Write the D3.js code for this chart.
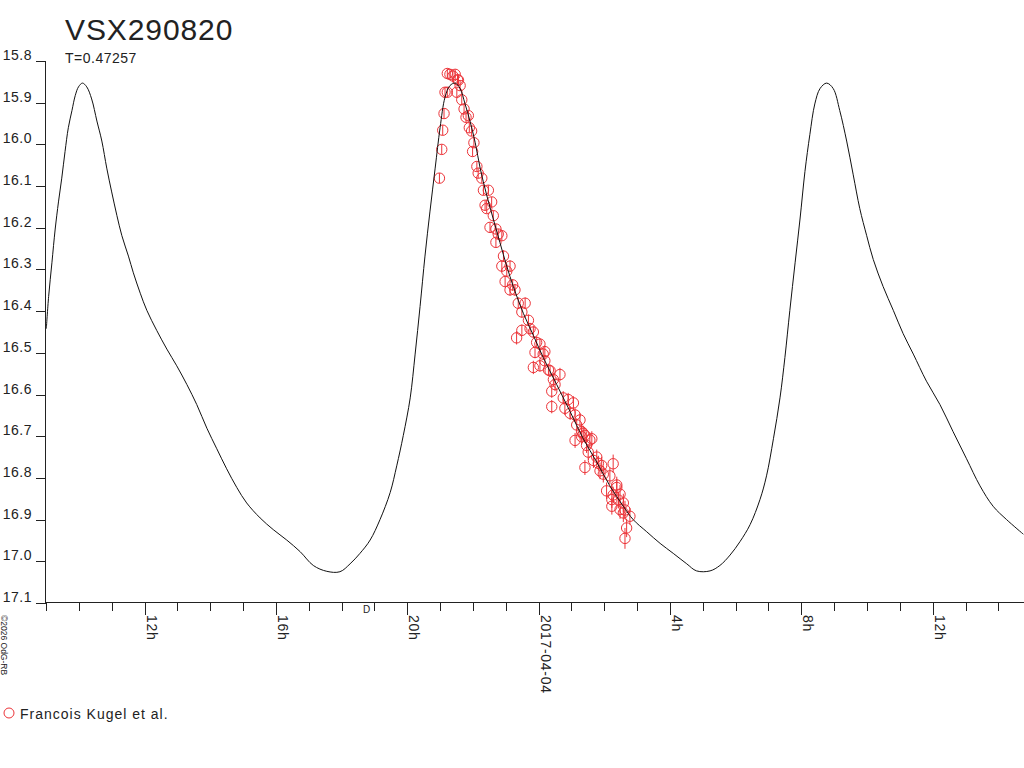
<!DOCTYPE html>
<html>
<head>
<meta charset="utf-8">
<script src="https://cdn.jsdelivr.net/npm/d3@7"></script>
<style>
  html, body { margin: 0; padding: 0; background: #fff; }
  svg { display: block; }
  text { font-family: "Liberation Sans", Arial, sans-serif; fill: #222; }
</style>
</head>
<body>
<svg id="chart" width="1024" height="768"></svg>
<script>
// ---- data ----
const title = "VSX290820";
const periodLabel = "T=0.47257";
const observer = "Francois Kugel et al.";
const copyright = "©2026 OdG-RB";
// time axis: hours relative to 2017-04-04 00:00 UTC
const timeStartHours = -15;
const timeEndHours = 14.78;
const yTicks = [15.8, 15.9, 16.0, 16.1, 16.2, 16.3, 16.4, 16.5, 16.6, 16.7, 16.8, 16.9, 17.0, 17.1];

// model light curve [hours, magnitude]
const modelCurve = [
  [-14.99,16.442],[-14.92,16.365],[-14.82,16.284],[-14.72,16.203],[-14.62,16.138],[-14.52,16.081],
  [-14.42,16.017],[-14.32,15.960],[-14.21,15.919],[-14.11,15.883],[-14.01,15.862],[-13.89,15.853],
  [-13.76,15.862],[-13.61,15.891],[-13.45,15.944],[-13.30,15.992],[-13.15,16.057],[-13.00,16.114],
  [-12.84,16.171],[-12.69,16.219],[-12.49,16.268],[-12.34,16.308],[-12.13,16.357],[-11.93,16.398],
  [-11.63,16.446],[-11.32,16.491],[-11.02,16.531],[-10.71,16.576],[-10.41,16.624],[-10.10,16.681],
  [-9.80,16.730],[-9.50,16.778],[-9.19,16.823],[-8.89,16.860],[-8.48,16.896],[-8.08,16.924],
  [-7.67,16.949],[-7.26,16.977],[-6.86,17.010],[-6.45,17.024],[-6.05,17.025],[-5.74,17.006],
  [-5.44,16.981],[-5.13,16.949],[-4.83,16.900],[-4.52,16.835],[-4.32,16.771],[-4.12,16.698],
  [-3.91,16.608],[-3.76,16.503],[-3.61,16.389],[-3.46,16.268],[-3.31,16.162],[-3.15,16.057],
  [-3.00,15.960],[-2.85,15.887],[-2.70,15.859],[-2.54,15.853],[-2.39,15.866],[-2.24,15.903],
  [-2.09,15.944],[-1.93,15.996],[-1.78,16.057],[-1.58,16.122],[-1.38,16.179],[-1.18,16.235],
  [-0.97,16.292],[-0.77,16.341],[-0.46,16.406],[-0.16,16.458],[0.14,16.511],[0.55,16.576],
  [0.96,16.641],[1.36,16.706],[1.77,16.762],[2.17,16.819],[2.58,16.868],[2.88,16.900],
  [3.29,16.929],[3.70,16.957],[4.10,16.981],[4.51,17.006],[4.81,17.023],[5.22,17.023],
  [5.52,17.010],[5.83,16.985],[6.13,16.953],[6.44,16.912],[6.74,16.852],[6.94,16.795],
  [7.15,16.706],[7.35,16.608],[7.50,16.511],[7.65,16.398],[7.81,16.284],[7.96,16.179],
  [8.11,16.065],[8.26,15.976],[8.41,15.903],[8.57,15.866],[8.77,15.853],[8.97,15.866],
  [9.17,15.919],[9.38,15.992],[9.58,16.073],[9.78,16.154],[9.99,16.219],[10.19,16.276],
  [10.49,16.341],[10.80,16.398],[11.10,16.454],[11.41,16.503],[11.81,16.568],[12.22,16.624],
  [12.62,16.689],[13.03,16.754],[13.44,16.819],[13.84,16.868],[14.25,16.900],[14.76,16.935]
];

// observations [hours, magnitude, error]
const observations = [
  [-3.02,16.081,0.012],[-2.95,16.012,0.012],[-2.92,15.966,0.012],[-2.88,15.926,0.012],
  [-2.85,15.875,0.012],[-2.78,15.875,0.012],[-2.78,15.830,0.012],[-2.70,15.832,0.012],
  [-2.61,15.836,0.012],[-2.54,15.832,0.012],[-2.47,15.845,0.012],[-2.44,15.846,0.012],
  [-2.39,15.859,0.012],[-2.49,15.875,0.012],[-2.34,15.893,0.012],[-2.27,15.915,0.012],
  [-2.21,15.935,0.012],[-2.14,15.931,0.012],[-2.11,15.960,0.012],[-2.04,15.968,0.012],
  [-1.97,15.996,0.012],[-2.01,16.017,0.012],[-1.88,16.053,0.012],[-1.84,16.069,0.012],
  [-1.73,16.081,0.012],[-1.68,16.110,0.012],[-1.53,16.110,0.012],[-1.43,16.138,0.012],
  [-1.63,16.146,0.012],[-1.58,16.154,0.012],[-1.38,16.171,0.012],[-1.48,16.199,0.012],
  [-1.30,16.203,0.012],[-1.23,16.215,0.012],[-1.12,16.219,0.012],[-1.30,16.235,0.012],
  [-1.07,16.268,0.014],[-1.12,16.292,0.014],[-0.87,16.292,0.014],[-0.97,16.304,0.014],
  [-1.02,16.329,0.014],[-0.79,16.337,0.014],[-0.87,16.349,0.014],[-0.72,16.349,0.014],
  [-0.62,16.381,0.014],[-0.41,16.381,0.014],[-0.51,16.402,0.014],[-0.31,16.422,0.014],
  [-0.26,16.442,0.014],[-0.51,16.446,0.014],[-0.67,16.464,0.016],[-0.16,16.450,0.014],
  [-0.06,16.475,0.014],[0.04,16.479,0.014],[-0.11,16.499,0.014],[0.14,16.503,0.014],
  [0.19,16.497,0.014],[0.19,16.519,0.014],[0.04,16.531,0.014],[-0.16,16.535,0.016],
  [0.30,16.541,0.014],[0.35,16.543,0.014],[0.65,16.552,0.016],[0.45,16.564,0.016],
  [0.50,16.576,0.016],[0.40,16.592,0.016],[0.75,16.608,0.016],[0.90,16.612,0.016],
  [1.06,16.620,0.016],[0.80,16.633,0.016],[0.40,16.629,0.016],[0.96,16.645,0.016],
  [1.11,16.649,0.016],[1.26,16.661,0.016],[1.16,16.673,0.016],[1.31,16.689,0.018],
  [1.36,16.693,0.018],[1.31,16.701,0.018],[1.41,16.698,0.018],[1.56,16.709,0.018],
  [1.62,16.706,0.018],[1.11,16.710,0.018],[1.46,16.722,0.018],[1.51,16.738,0.018],
  [1.77,16.750,0.018],[1.67,16.758,0.018],[1.82,16.765,0.018],[1.41,16.775,0.018],
  [1.92,16.770,0.020],[2.27,16.766,0.022],[1.87,16.783,0.020],[1.97,16.791,0.020],
  [2.17,16.795,0.020],[2.38,16.817,0.020],[2.38,16.823,0.020],[2.07,16.831,0.020],
  [2.27,16.841,0.020],[2.48,16.839,0.022],[2.43,16.853,0.020],[2.23,16.852,0.020],
  [2.58,16.860,0.022],[2.23,16.868,0.020],[2.48,16.876,0.022],[2.63,16.877,0.022],
  [2.58,16.884,0.022],[2.78,16.892,0.020],[2.68,16.920,0.022],[2.63,16.945,0.025]
];

// ---- drawing ----
(function () {
const svg = d3.select("#chart");
const red = "#ec3338";
const base = Date.UTC(2017, 3, 4, 0, 0, 0);
const toDate = h => new Date(base + h * 3600e3);

const plotLeft = 46, plotRight = 1024, plotTop = 61, plotBottom = 603;
const x = d3.scaleUtc().domain([toDate(timeStartHours), toDate(timeEndHours)]).range([plotLeft, plotRight]);
const y = d3.scaleLinear().domain([15.8, 17.1]).range([plotTop, plotBottom]);

svg.append("defs").append("clipPath").attr("id", "plotclip")
  .append("rect").attr("x", plotLeft).attr("y", 0).attr("width", plotRight - plotLeft).attr("height", plotBottom);

// title
svg.append("text").attr("x", 65).attr("y", 40).attr("font-size", 30)
  .attr("letter-spacing", 0.9).text(title);
svg.append("text").attr("x", 65).attr("y", 63).attr("font-size", 14)
  .attr("letter-spacing", 0.5).text(periodLabel);

// y axis
const yAxisG = svg.append("g").attr("shape-rendering", "crispEdges");
yAxisG.append("line").attr("x1", plotLeft - 0.5).attr("x2", plotLeft - 0.5)
  .attr("y1", y(15.8)).attr("y2", plotBottom).attr("stroke", "#222");
yAxisG.selectAll("line.tick").data(yTicks).enter().append("line")
  .attr("class", "tick").attr("x1", 36).attr("x2", plotLeft)
  .attr("y1", d => Math.round(y(d)) + 0.5).attr("y2", d => Math.round(y(d)) + 0.5)
  .attr("stroke", "#222");
svg.selectAll("text.ylab").data(yTicks).enter().append("text")
  .attr("class", "ylab").attr("x", 32).attr("y", d => y(d) - 1)
  .attr("text-anchor", "end").attr("font-size", 14).attr("letter-spacing", 0.5)
  .text(d => d.toFixed(1));

// x axis
const xAxisG = svg.append("g").attr("shape-rendering", "crispEdges");
xAxisG.append("line").attr("x1", plotLeft - 1).attr("x2", plotRight)
  .attr("y1", plotBottom - 0.5).attr("y2", plotBottom - 0.5).attr("stroke", "#222");
const hourTicks = x.ticks(d3.utcHour.every(1));
xAxisG.selectAll("line.xt").data(hourTicks).enter().append("line")
  .attr("class", "xt")
  .attr("x1", d => Math.round(x(d)) + 0.5).attr("x2", d => Math.round(x(d)) + 0.5)
  .attr("y1", plotBottom).attr("y2", d => d.getUTCHours() % 4 === 0 ? plotBottom + 12 : plotBottom + 8)
  .attr("stroke", "#222");
const majors = hourTicks.filter(d => d.getUTCHours() % 4 === 0);
svg.selectAll("text.xlab").data(majors).enter().append("text")
  .attr("class", "xlab")
  .attr("transform", d => `translate(${Math.round(x(d)) + 2},${plotBottom + 12}) rotate(90)`)
  .attr("font-size", 14).attr("letter-spacing", 0.7)
  .text(d => d.getUTCHours() === 0 ? d3.utcFormat("%Y-%m-%d")(d) : d.getUTCHours() + "h");

// small marker on the axis
svg.append("text").attr("x", x(toDate(-5.35))).attr("y", plotBottom + 10)
  .attr("font-size", 10).text("D");

// copyright
svg.append("text").attr("transform", `translate(1,${plotBottom + 12}) rotate(90)`)
  .attr("font-size", 8.5).text(copyright);

// observations
const obsG = svg.append("g").attr("clip-path", "url(#plotclip)");
obsG.selectAll("line.err").data(observations).enter().append("line")
  .attr("class", "err")
  .attr("x1", d => x(toDate(d[0]))).attr("x2", d => x(toDate(d[0])))
  .attr("y1", d => y(d[1] - d[2])).attr("y2", d => y(d[1] + d[2]))
  .attr("stroke", red).attr("stroke-width", 1);
obsG.selectAll("circle").data(observations).enter().append("circle")
  .attr("cx", d => x(toDate(d[0]))).attr("cy", d => y(d[1])).attr("r", 5.2)
  .attr("fill", "none").attr("stroke", red).attr("stroke-width", 1);

// model curve
const line = d3.line().x(d => x(toDate(d[0]))).y(d => y(d[1])).curve(d3.curveCatmullRom.alpha(0.5));
svg.append("path").datum(modelCurve).attr("clip-path", "url(#plotclip)")
  .attr("d", line).attr("fill", "none").attr("stroke", "#111").attr("stroke-width", 1);

// legend
svg.append("circle").attr("cx", 9).attr("cy", 713).attr("r", 5)
  .attr("fill", "none").attr("stroke", red).attr("stroke-width", 1);
svg.append("text").attr("x", 20).attr("y", 719).attr("font-size", 14)
  .attr("letter-spacing", 1).text(observer);
})();
</script>
</body>
</html>
